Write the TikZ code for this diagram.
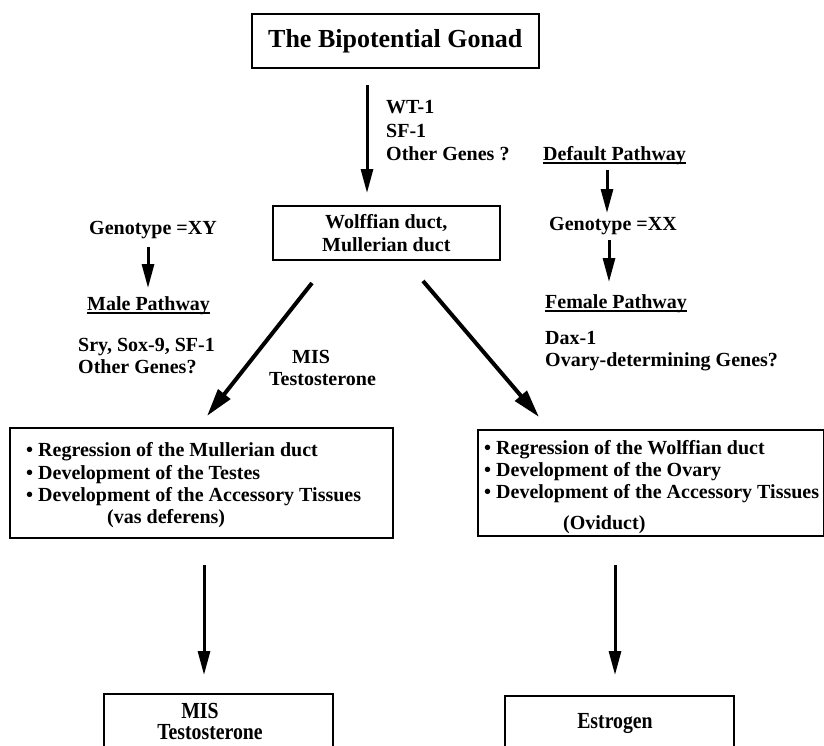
\documentclass[tikz,border=0pt]{standalone}
\usepackage{fontspec}
\setmainfont{Liberation Serif}
\newfontfamily\condfont{Liberation Serif}[FakeStretch=0.86]
\usetikzlibrary{arrows.meta}
% underlined pathway headings: rule sits just under the baseline
\newcommand\ulword[1]{\setbox0\hbox{#1}\rlap{\rule[-3.5pt]{\wd0}{1.4pt}}\box0}

\tikzset{
  box/.style={draw, line width=1.6pt, inner sep=0pt, anchor=north west},
  lbl/.style={font=\fontsize{20}{23}\selectfont\bfseries, inner sep=0pt, anchor=base west},
  hormone/.style={font=\condfont\bfseries\fontsize{23}{25}\selectfont, inner sep=0pt, anchor=base},
  flow/.style={line width=3pt, -{Triangle[length=24pt,width=12pt]}},
  branch/.style={line width=4pt, -{Triangle[length=28pt,width=15pt]}},
}

\begin{document}
\begin{tikzpicture}[x=1pt,y=-1pt]
\useasboundingbox (0,0) rectangle (824,745);
\clip (0,0) rectangle (824,745);

% boxes
\node[box, minimum width=287pt, minimum height=54pt,
      font=\fontsize{26}{28}\selectfont\bfseries] (gonad) at (251,13) {The Bipotential Gonad};
\node[box, minimum width=227pt, minimum height=54pt, align=center,
      font=\fontsize{20}{23}\selectfont\bfseries] (ducts) at (272,205) {Wolffian duct,\\Mullerian duct};
\node[box, minimum width=383pt, minimum height=110pt] (malebox) at (9,427) {};
\node[box, minimum width=346pt, minimum height=106pt] (femalebox) at (477,429) {};
\node[box, minimum width=229pt, minimum height=90pt] (misbox) at (103,693) {};
\node[box, minimum width=229pt, minimum height=90pt] (estbox) at (504,695) {};

% gene labels
\node[lbl] (wt) at (386,113) {WT-1};
\node[lbl] (sf) at (386,137) {SF-1};
\node[lbl] (other) at (386,160) {Other Genes ?};

\node[lbl] (default) at (543,160) {\ulword{Default Pathway}};
\node[lbl] (gxx) at (549,230) {Genotype =XX};
\node[lbl] (female) at (545,308) {\ulword{Female Pathway}};
\node[lbl] (dax) at (545,344) {Dax-1};
\node[lbl] (ovary) at (545,366) {Ovary-determining Genes?};

\node[lbl] (gxy) at (89,234) {Genotype =XY};
\node[lbl] (male) at (87,310) {\ulword{Male Pathway}};
\node[lbl] (sry) at (78,351) {Sry, Sox-9, SF-1};
\node[lbl] (othm) at (78,373) {Other Genes?};

\node[lbl] (mis) at (292,363) {MIS};
\node[lbl] (testo) at (269,385) {Testosterone};

% male box contents
\node[lbl] (m1) at (26,456) {\textbullet\ Regression of the Mullerian duct};
\node[lbl] (m2) at (26,479) {\textbullet\ Development of the Testes};
\node[lbl] (m3) at (26,501) {\textbullet\ Development of the Accessory Tissues};
\node[lbl] (m4) at (107,523) {(vas deferens)};

% female box contents
\node[lbl] (f1) at (484,454) {\textbullet\ Regression of the Wolffian duct};
\node[lbl] (f2) at (484,476) {\textbullet\ Development of the Ovary};
\node[lbl] (f3) at (484,498) {\textbullet\ Development of the Accessory Tissues};
\node[lbl] (f4) at (563,529) {(Oviduct)};

% hormone boxes
\node[hormone] (mis2) at (200,718) {MIS};
\node[hormone] (testo2) at (210,739) {Testosterone};
\node[hormone] (estro) at (615,728) {Estrogen};

% arrow end points
\coordinate (g1) at (367,85);   \coordinate (g2) at (367,193);
\coordinate (d1) at (607,170);  \coordinate (d2) at (607,213);
\coordinate (x1) at (609,240);  \coordinate (x2) at (609,282);
\coordinate (y1) at (148,247);  \coordinate (y2) at (148,288);
\coordinate (l1) at (312,283);  \coordinate (l2) at (207,416);
\coordinate (r1) at (423,281);  \coordinate (r2) at (539,417);
\coordinate (h1) at (204,565);  \coordinate (h2) at (204,675);
\coordinate (e1) at (615,565);  \coordinate (e2) at (615,675);

\draw[flow] (g1) -- (g2);
\draw[flow] (d1) -- (d2);
\draw[flow] (x1) -- (x2);
\draw[flow] (y1) -- (y2);
\draw[branch] (l1) -- (l2);
\draw[branch] (r1) -- (r2);
\draw[flow] (h1) -- (h2);
\draw[flow] (e1) -- (e2);
\end{tikzpicture}
\end{document}
